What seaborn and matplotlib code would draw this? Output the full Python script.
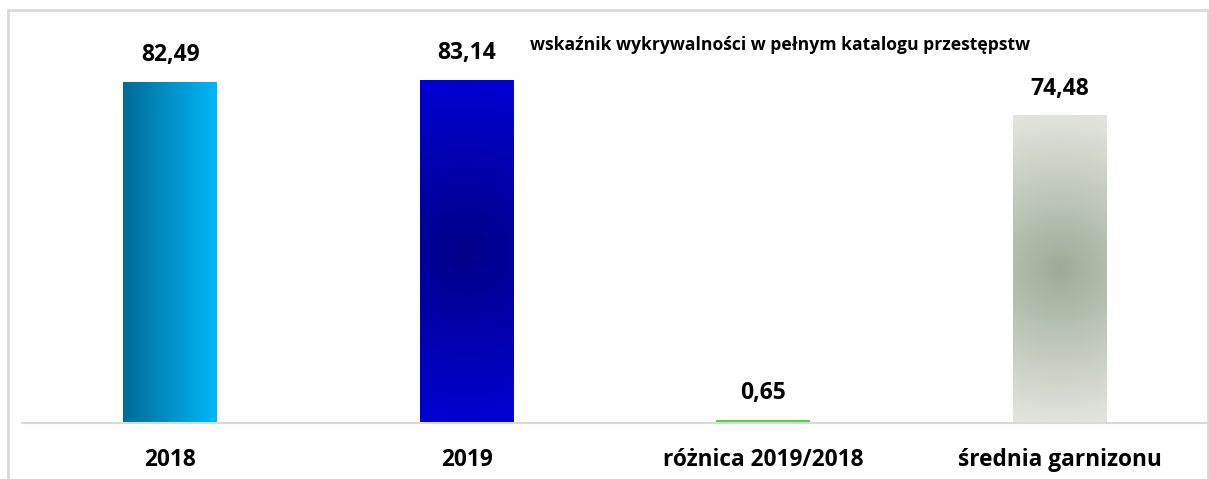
import numpy as np
import pandas as pd
import matplotlib
matplotlib.use("Agg")
import matplotlib.pyplot as plt
import seaborn as sns
from matplotlib.colors import LinearSegmentedColormap
from matplotlib.patches import Rectangle

# data
categories = ["2018", "2019", "różnica 2019/2018", "średnia garnizonu"]
values = [82.49, 83.14, 0.65, 74.48]
value_labels = ["82,49", "83,14", "0,65", "74,48"]
title = "wskaźnik wykrywalności w pełnym katalogu przestępstw"

sns.set_theme(style="white")
plt.rcParams["font.family"] = ["Open Sans", "DejaVu Sans"]

W, H = 1209, 479
fig = plt.figure(figsize=(W / 100, H / 100), dpi=100)
ax = fig.add_axes([22 / W, (H - 423) / H, 1186 / W, 413 / H])

df = pd.DataFrame({"cat": categories, "val": values})
sns.barplot(data=df, x="cat", y="val", ax=ax, width=0.316,
            color="#4CD44C", saturation=1)

ax.set_ylim(0, 100)
ax.set_xlim(-0.5, 3.5)


def horiz_grad(c0, c1):
    cm = LinearSegmentedColormap.from_list("h", [c0, c1])
    g = np.linspace(0, 1, 256)[None, :]
    return lambda aspect: cm(g)


def radial_grad(center, edge):
    cm = LinearSegmentedColormap.from_list("r", [center, edge])

    def make(aspect):
        # circular in screen pixels, radius about half the bar height
        xx, yy = np.meshgrid(np.linspace(-1, 1, 200), np.linspace(-1, 1, 400))
        r = np.clip(np.sqrt((xx * aspect) ** 2 + yy ** 2), 0, 1)
        return cm(r)
    return make


fills = {
    0: horiz_grad("#006A97", "#00B7F7"),
    1: radial_grad("#000087", "#0000D2"),
    3: radial_grad("#9DAC96", "#E2E3DE"),
}

for i, p in enumerate(ax.patches):
    p.set_edgecolor("none")
    if i in fills:
        x0, y0 = p.get_x(), p.get_y()
        w, h = p.get_width(), p.get_height()
        ext = p.get_window_extent(fig.canvas.get_renderer())
        aspect = ext.width / ext.height
        im = ax.imshow(fills[i](aspect), extent=[x0, x0 + w, y0, y0 + h],
                       aspect="auto", origin="lower", zorder=p.get_zorder() + 0.1)
        im.set_clip_path(p)
        p.set_facecolor("none")

for i, p in enumerate(ax.patches):
    ax.text(p.get_x() + p.get_width() / 2, p.get_height() + 3.6, value_labels[i],
            ha="center", va="bottom", fontsize=16.5, fontweight="bold", color="black")

ax.text(0.639, 0.915, title, transform=ax.transAxes, ha="center", va="center",
        fontsize=12.6, fontweight="bold", color="black")

ax.set_xlabel("")
ax.set_ylabel("")
ax.set_yticks([])
ax.tick_params(axis="x", length=0, pad=18)
for lab in ax.get_xticklabels():
    lab.set_fontsize(16.3)
    lab.set_fontweight("bold")
    lab.set_color("black")

for s in ["top", "right", "left"]:
    ax.spines[s].set_visible(False)
ax.spines["bottom"].set_color("#D9D9D9")
ax.spines["bottom"].set_linewidth(1.5)

# outer chart border
fig.patches.append(Rectangle((8 / W, -0.05), 1200 / W, 1.05 - 10 / H,
                             transform=fig.transFigure, fill=False,
                             edgecolor="#D9D9D9", linewidth=2))

fig.savefig("out.png", dpi=100)
